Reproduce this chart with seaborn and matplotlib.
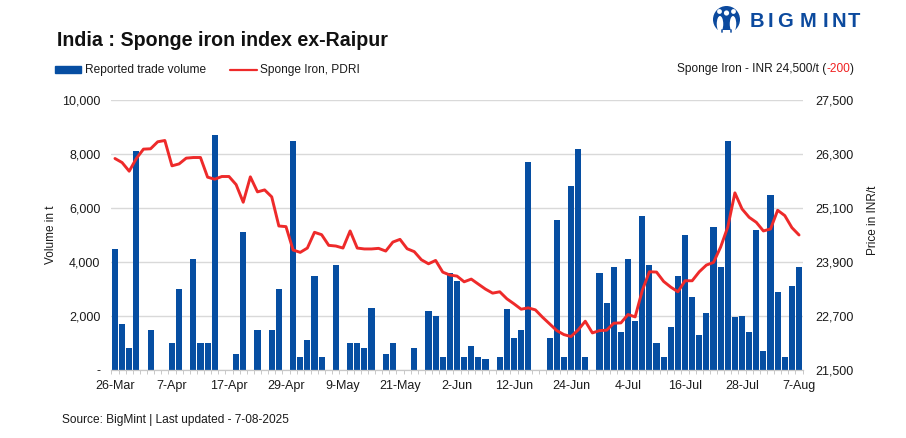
import matplotlib
matplotlib.use("Agg")
import matplotlib.pyplot as plt
from matplotlib.patches import Circle, Ellipse, Rectangle
from matplotlib.lines import Line2D
from matplotlib.patches import Patch
import numpy as np
import pandas as pd
import seaborn as sns

volume = [4500,1700,800,8100,0,1500,0,0,1000,3000,0,4100,1000,1000,8700,0,0,600,5100,0,
          1500,0,1500,3000,0,8500,500,1100,3500,500,0,3900,0,1000,1000,800,2300,0,600,1000,
          0,0,800,0,2200,2000,500,3600,3300,500,900,500,400,0,500,2250,1200,1500,7700,0,
          0,1200,5550,500,6800,8200,500,0,3600,2500,3800,1400,4100,1800,5700,3900,1000,500,1600,3500,
          5000,2700,1300,2100,5300,3800,8500,1950,2000,1400,5200,700,6500,2900,500,3100,3800]
price = [26200,26110,25918,26200,26408,26416,26572,26600,26037,26080,26208,26222,26222,25785,25740,25800,25800,25620,25228,25792,
         25458,25502,25347,24700,24686,24166,24114,24210,24560,24507,24270,24255,24210,24590,24210,24190,24190,24203,24143,24343,
         24403,24195,24130,23950,23860,23935,23675,23610,23587,23460,23520,23408,23297,23208,23238,23082,22970,22851,22881,22836,
         22673,22525,22376,22287,22243,22390,22584,22324,22376,22384,22540,22547,22733,22680,23267,23683,23676,23468,23342,23238,
         23483,23483,23683,23832,23891,24233,24678,25436,25079,24893,24782,24590,24634,25050,24931,24663,24500]
tick_labels = ["26-Mar","7-Apr","17-Apr","29-Apr","9-May","21-May","2-Jun","12-Jun","24-Jun","4-Jul","16-Jul","28-Jul","7-Aug"]
left_ticks = [0,2000,4000,6000,8000,10000]
left_labels = ["-","2,000","4,000","6,000","8,000","10,000"]
right_ticks = [21500,22700,23900,25100,26300,27500]

BLUE = "#064ea2"
RED = "#ee2a2a"
GRID = "#d9d9d9"
INK = "#1a1a1a"
W, H = 906, 438

sns.set_theme(style="white")
plt.rcParams["font.family"] = ["Liberation Sans", "DejaVu Sans"]

fig = plt.figure(figsize=(W/100, H/100), dpi=100)
ax = fig.add_axes([111.4/W, 1-370/H, (802.6-111.4)/W, 270/H])
df = pd.DataFrame({"i": range(len(volume)), "volume": volume, "price": price})

sns.barplot(data=df, x="i", y="volume", ax=ax, color=BLUE, width=0.86, saturation=1,
            edgecolor="none", linewidth=0, zorder=2)
ax.set_xlim(-0.5, len(volume)-0.5)
ax.set_ylim(0, 10000)
ax.set_yticks(left_ticks, left_labels, fontsize=9.0, color=INK)
ax.set_xticks(np.arange(0, len(volume), 8), tick_labels, fontsize=9.0, color=INK)
ax.set_xticks(np.arange(-0.5, len(volume)), minor=True)
ax.tick_params(axis="x", which="major", length=0, pad=7)
ax.tick_params(axis="x", which="minor", length=3, width=0.7, color="#c8c8c8", bottom=True)
ax.tick_params(axis="y", length=0, pad=8)
ax.grid(axis="y", color=GRID, linewidth=1)
ax.set_axisbelow(True)
for s in ["top", "left", "right"]:
    ax.spines[s].set_visible(False)
ax.spines["bottom"].set_color("#c8c8c8")
ax.spines["bottom"].set_linewidth(0.9)
ax.set_xlabel("")
ax.set_ylabel("")
fig.text(51/W, 1-235/H, "Volume in t", fontsize=8.5, color=INK, rotation=90, ha="center", va="center")

ax2 = ax.twinx()
sns.lineplot(data=df, x="i", y="price", ax=ax2, color=RED, linewidth=2.1, zorder=5)
ax2.set_ylim(21500, 27500)
ax2.set_yticks(right_ticks, [f"{v:,}" for v in right_ticks], fontsize=9.0, color=INK)
ax2.tick_params(axis="y", length=0, pad=9)
ax2.grid(False)
for s in ax2.spines.values():
    s.set_visible(False)
ax2.set_xlabel("")
ax2.set_ylabel("")
fig.text(873/W, 1-220/H, "Price in INR/t", fontsize=8.5, color=INK, rotation=90, ha="center", va="center")

fig.text(57/W, 1-40/H, "India : Sponge iron index ex-Raipur", fontsize=14.15, fontweight="bold",
         family="Liberation Sans", color="#111111", va="center", ha="left")
fig.text(62/W, 1-420/H, "Source: BigMint | Last updated - 7-08-2025", fontsize=8.6, color=INK, va="center")

handles = [Patch(facecolor=BLUE, edgecolor=BLUE), Line2D([0], [0], color=RED, linewidth=1.6)]
fig.legend(handles, ["Reported trade volume", "Sponge Iron, PDRI"], loc="center left",
           bbox_to_anchor=(44/W, 1-70.5/H), ncol=2, frameon=False, fontsize=8.55,
           handlelength=2.25, handleheight=0.6, handletextpad=0.3, columnspacing=2.0,
           labelcolor=INK)

t3 = fig.text(854/W, 1-69/H, ")", fontsize=8.6, color=INK, ha="right", va="center")
fig.canvas.draw()
r = fig.canvas.get_renderer()
bb = t3.get_window_extent(r)
t2 = fig.text(bb.x0/W, 1-69/H, "-200", fontsize=8.6, color="#f02020", ha="right", va="center")
bb = t2.get_window_extent(r)
fig.text(bb.x0/W, 1-69/H, "Sponge Iron - INR 24,500/t (", fontsize=8.6, color=INK, ha="right", va="center")

# logo
logo = fig.add_axes([0, 0, 1, 1], facecolor="none")
logo.set_xlim(0, W); logo.set_ylim(H, 0); logo.axis("off")
LOGO = "#0c4a9e"
logo.add_patch(Circle((726.5, 19.5), 13.5, facecolor=LOGO, edgecolor="none"))
logo.add_patch(Ellipse((720, 24), 6.5, 16, facecolor="white", edgecolor="none"))
logo.add_patch(Ellipse((733, 24), 6.5, 16, facecolor="white", edgecolor="none"))
logo.add_patch(Circle((726.5, 13), 2.6, facecolor="white", edgecolor="none"))
logo.add_patch(Circle((719.5, 11.5), 2.4, facecolor="white", edgecolor="none"))
logo.add_patch(Circle((733.5, 11.5), 2.4, facecolor="white", edgecolor="none"))
logo.add_patch(Rectangle((710, 30), 33, 5, facecolor="white", edgecolor="none"))
logo.add_patch(Ellipse((722, 31), 1.6, 4, facecolor=LOGO, edgecolor="none"))
logo.add_patch(Ellipse((731, 31), 1.6, 4, facecolor=LOGO, edgecolor="none"))
xs = [757, 770, 785, 808, 825, 839, 854]
for x, ch in zip(xs, "BIGMINT"):
    logo.text(x, 21.5, ch, fontsize=14.5, fontweight="bold", family="Liberation Sans", color=LOGO,
              ha="center", va="center")

fig.savefig("out.png", dpi=100, facecolor="white")
